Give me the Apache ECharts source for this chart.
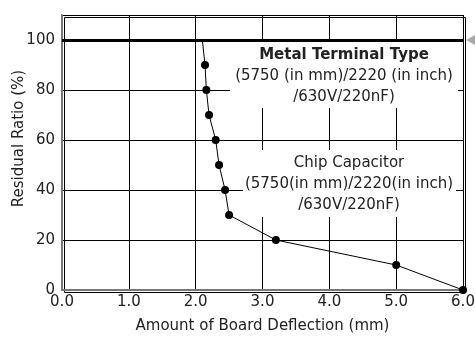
<!DOCTYPE html>
<html>
<head>
<meta charset="utf-8">
<script src="https://cdn.jsdelivr.net/npm/echarts@6/dist/echarts.min.js"></script>
<style>
  html, body { margin: 0; padding: 0; background: #fff; }
  #chart { width: 475px; height: 338px; }
</style>
</head>
<body>
<div id="chart"></div>
<script>
// board deflection (mm) vs residual ratio (%)
var deflection = [2.1, 2.14, 2.16, 2.2, 2.3, 2.35, 2.44, 2.5, 3.2, 5.0, 6.0];
var residual = [100, 90, 80, 70, 60, 50, 40, 30, 20, 10, 0];
var metalLine = 100;
var metalLabel = ['Metal Terminal Type', '(5750 (in mm)/2220 (in inch)', '/630V/220nF)'];
var chipLabel = ['Chip Capacitor', '(5750(in mm)/2220(in inch)', '/630V/220nF)'];

var font = '"DejaVu Sans", sans-serif';

var points = [];
for (var i = 0; i < deflection.length; i++) {
  points.push({
    value: [deflection[i], residual[i]],
    symbolSize: i === 0 ? 0 : 8
  });
}

var myChart = echarts.init(document.getElementById('chart'));

myChart.setOption({
  animation: false,
  grid: { left: 62, right: 12, top: 15, bottom: 48, outerBoundsMode: 'none' },
  xAxis: {
    type: 'value',
    min: 0, max: 6, interval: 1,
    name: 'Amount of Board Deflection (mm)',
    nameLocation: 'middle',
    nameGap: 29,
    nameMoveOverlap: false,
    nameTextStyle: { color: '#222', fontSize: 15, fontFamily: font },
    axisLine: { lineStyle: { color: '#777', width: 2 } },
    axisTick: { show: false },
    axisLabel: {
      color: '#222', fontSize: 15, fontFamily: font, margin: 5,
      formatter: function (v) { return v.toFixed(1); }
    },
    splitLine: { lineStyle: { color: '#000', width: 1 } }
  },
  yAxis: {
    type: 'value',
    min: 0, max: 110, interval: 20,
    name: 'Residual Ratio (%)',
    nameLocation: 'middle',
    nameGap: 35,
    nameMoveOverlap: false,
    nameTextStyle: { color: '#222', fontSize: 15, fontFamily: font, padding: [0, 0, 0, 28] },
    axisLine: { show: true, lineStyle: { color: '#777', width: 2 } },
    axisTick: { show: false },
    axisLabel: {
      color: '#222', fontSize: 15, fontFamily: font, margin: 7,
      formatter: function (v) { return v > 100 ? '' : String(v); }
    },
    splitLine: { lineStyle: { color: '#000', width: 1 } }
  },
  graphic: [
    {
      type: 'rect', left: 62, top: 15, z: 0, silent: true,
      shape: { width: 401, height: 275 },
      style: { fill: 'none', stroke: '#000', lineWidth: 1 }
    },
    {
      type: 'polygon', z: 10, silent: true,
      shape: { points: [[466, 40], [475, 35], [475, 45]] },
      style: { fill: '#aaa' }
    },
    {
      type: 'rect', z: 9, silent: true,
      shape: { x: 230, y: 42, width: 228, height: 66 },
      style: { fill: '#fff' }
    },
    {
      type: 'text', x: 344, y: 45, z: 10, silent: true,
      style: {
        text: '{b|' + metalLabel[0] + '}\n' + metalLabel[1] + '\n' + metalLabel[2],
        align: 'center', verticalAlign: 'top',
        fontSize: 15, fontFamily: font, fill: '#222', lineHeight: 20.5,
        rich: { b: { fontWeight: 'bold', fontSize: 15, fontFamily: font, lineHeight: 21 } }
      }
    },
    {
      type: 'rect', z: 9, silent: true,
      shape: { x: 243, y: 150, width: 213, height: 67 },
      style: { fill: '#fff' }
    },
    {
      type: 'text', x: 349, y: 153, z: 10, silent: true,
      style: {
        text: chipLabel.join('\n'),
        align: 'center', verticalAlign: 'top',
        fontSize: 15, fontFamily: font, fill: '#222', lineHeight: 21
      }
    }
  ],
  series: [
    {
      type: 'line',
      data: points,
      symbol: 'circle',
      itemStyle: { color: '#000' },
      lineStyle: { color: '#000', width: 1 },
      z: 5,
      markLine: {
        silent: true,
        symbol: 'none',
        label: { show: false },
        lineStyle: { color: '#000', width: 3, type: 'solid' },
        data: [{ yAxis: metalLine }]
      }
    }
  ]
});
</script>
</body>
</html>
